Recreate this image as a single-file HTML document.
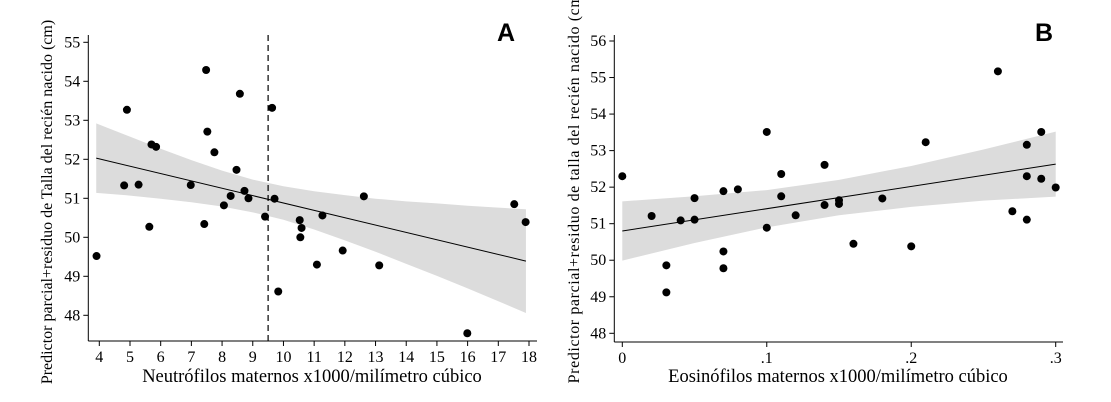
<!DOCTYPE html>
<html><head><meta charset="utf-8"><style>
body{margin:0;background:#fff}
svg{display:block;font-family:"Liberation Serif",serif}
</style></head><body>
<svg id="c" width="1111" height="402" viewBox="0 0 1111 402" xmlns="http://www.w3.org/2000/svg"></svg>
<script>
// Panel A data
const aPointsX=[3.91,4.81,4.90,5.28,5.63,5.70,5.85,6.98,7.42,7.48,7.52,7.75,8.06,8.28,8.47,8.58,8.73,8.86,9.40,9.63,9.71,9.83,10.53,10.59,10.55,11.09,11.27,11.93,12.62,13.12,15.99,17.52,17.89];
const aPointsY=[49.52,51.33,53.27,51.35,50.27,52.38,52.32,51.34,50.34,54.29,52.71,52.18,50.82,51.06,51.73,53.68,51.19,51.0,50.53,53.32,50.99,48.61,50.44,50.24,50.0,49.30,50.56,49.66,51.05,49.28,47.54,50.85,50.39];
const aBandX=[3.9,5,6,7,8,9,10,11,12,13,14,15,16,17,17.9];
const aBandHi=[52.92,52.58,52.27,51.98,51.71,51.48,51.31,51.18,51.08,50.99,50.92,50.87,50.81,50.76,50.72];
const aBandLo=[51.14,51.07,50.99,50.90,50.79,50.64,50.45,50.20,49.92,49.63,49.32,49.01,48.69,48.36,48.06];
const aFitX=[3.9,17.9];
const aFitY=[52.03,49.39];
const aXTicks=[4,5,6,7,8,9,10,11,12,13,14,15,16,17,18];
const aYTicks=[48,49,50,51,52,53,54,55];
const aCutoff=9.5;
// Panel B data
const bPointsX=[0,.0203,.0305,.0305,.0404,.05,.05,.07,.07,.07,.08,.10,.10,.11,.11,.12,.14,.14,.15,.15,.16,.18,.20,.21,.26,.27,.28,.28,.28,.29,.29,.30];
const bPointsY=[52.30,51.21,49.86,49.12,51.09,51.70,51.11,51.89,50.24,49.78,51.94,53.51,50.89,52.36,51.75,51.23,52.61,51.51,51.64,51.54,50.45,51.69,50.38,53.23,55.17,51.34,53.16,52.30,51.11,53.51,52.23,51.99];
const bBandX=[0,.05,.1,.15,.2,.25,.3];
const bBandHi=[51.61,51.75,51.92,52.20,52.58,53.03,53.52];
const bBandLo=[49.99,50.47,50.90,51.23,51.46,51.63,51.74];
const bFitX=[0,.3];
const bFitY=[50.80,52.63];
const bXTicks=[0,.1,.2,.3];
const bXTickLabels=["0",".1",".2",".3"];
const bYTicks=[48,49,50,51,52,53,54,55,56];

const NS="http://www.w3.org/2000/svg";
const svg=document.getElementById('c');
function mk(tag,attrs,parent){const e=document.createElementNS(NS,tag);for(const k in attrs)e.setAttribute(k,attrs[k]);(parent||svg).appendChild(e);return e;}

function panel(o){
  const g=mk('g',{});
  
  
  const sx=v=>o.x0px+(v-o.x0)*(o.x1px-o.x0px)/(o.x1-o.x0);
  const sy=v=>o.y0px+(v-o.y0)*(o.y1px-o.y0px)/(o.y1-o.y0);
  let d='';
  o.bandX.forEach((x,i)=>{d+=(i?'L':'M')+sx(x)+','+sy(o.bandHi[i]);});
  for(let i=o.bandX.length-1;i>=0;i--)d+='L'+sx(o.bandX[i])+','+sy(o.bandLo[i]);
  const band=mk('path',{d:d+'Z',fill:'#dcdcdc'},g);
  
  
  const fit=mk('line',{x1:sx(o.fitX[0]),y1:sy(o.fitY[0]),x2:sx(o.fitX[1]),y2:sy(o.fitY[1]),stroke:'#000','stroke-width':1},g);
  
  
  if(o.cutoff!==undefined){
    const c=mk('line',{x1:sx(o.cutoff),y1:35,x2:sx(o.cutoff),y2:o.axisY,stroke:'#000','stroke-width':1.2,'stroke-dasharray':'6,4'},g);
    
    
  }
  o.px.forEach((x,i)=>{
    const p=mk('circle',{cx:sx(x),cy:sy(o.py[i]),r:4,fill:'#000'},g);
    
    
  });
  const ya=mk('line',{x1:o.axisX,y1:35,x2:o.axisX,y2:o.axisY,stroke:'#000','stroke-width':1},g);
  
  
  const xa=mk('line',{x1:o.axisX,y1:o.axisY,x2:o.axisR,y2:o.axisY,stroke:'#000','stroke-width':1},g);
  
  
  o.yTicks.forEach(v=>{
    mk('line',{x1:o.axisX-5,y1:sy(v),x2:o.axisX,y2:sy(v),stroke:'#000'},g);
    const t=mk('text',{x:o.axisX-8,y:sy(v)+5,'text-anchor':'end','font-size':16},g);
    
    
    t.textContent=v;
  });
  o.xTicks.forEach((v,i)=>{
    mk('line',{x1:sx(v),y1:o.axisY,x2:sx(v),y2:o.axisY+5,stroke:'#000'},g);
    const t=mk('text',{x:sx(v),y:o.axisY+21,'text-anchor':'middle','font-size':16},g);
    
    
    t.textContent=o.xLabels?o.xLabels[i]:v;
  });
  const xt=mk('text',{x:o.xTitleX,y:382,'text-anchor':'middle','font-size':18.5},g);
  
  
  xt.textContent=o.xTitle;
  const yt=mk('text',{x:0,y:0,'text-anchor':'middle','font-size':16,'letter-spacing':o.ySpacing,transform:'translate('+o.yTitleX+','+o.yTitleY+') rotate(-90)'},g);
  
  
  yt.textContent=o.yTitle;
  const lt=mk('text',{x:o.letterX,y:41,'font-size':25,'font-weight':'bold','font-family':'Liberation Sans, sans-serif'},g);
  
  
  lt.textContent=o.letter;
}
panel({name:'panel-a',x0:4,x1:18,x0px:99.3,x1px:529,y0:55,y1:48,y0px:42.3,y1px:315.3,
  axisX:88.3,axisY:341,axisR:537,bandX:aBandX,bandHi:aBandHi,bandLo:aBandLo,fitX:aFitX,fitY:aFitY,
  cutoff:aCutoff,px:aPointsX,py:aPointsY,yTicks:aYTicks,xTicks:aXTicks,
  xTitle:'Neutrófilos maternos x1000/milímetro cúbico',xTitleX:312,ySpacing:0,
  yTitle:'Predictor parcial+residuo de Talla del recién nacido (cm)',yTitleX:52,yTitleY:202,letter:'A',letterX:497});
panel({name:'panel-b',x0:0,x1:.3,x0px:622.3,x1px:1055.7,y0:56,y1:48,y0px:41,y1px:333.3,
  axisX:614.3,axisY:342,axisR:1063,bandX:bBandX,bandHi:bBandHi,bandLo:bBandLo,fitX:bFitX,fitY:bFitY,
  px:bPointsX,py:bPointsY,yTicks:bYTicks,xTicks:bXTicks,xLabels:bXTickLabels,ySpacing:0.6,
  xTitle:'Eosinófilos maternos x1000/milímetro cúbico',xTitleX:838,
  yTitle:'Predictor parcial+residuo de talla del recién nacido (cm)',yTitleX:579,yTitleY:186,letter:'B',letterX:1035});
</script>
</body></html>
